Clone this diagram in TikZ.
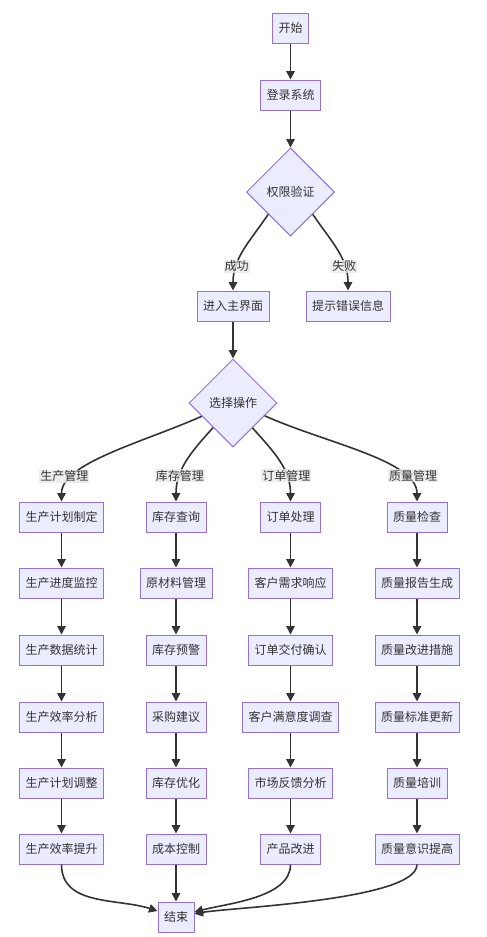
\documentclass[tikz,border=0pt]{standalone}
\usepackage{fontspec}
\setmainfont{Noto Sans CJK SC}
\usetikzlibrary{shapes.geometric,arrows.meta}
\definecolor{boxfill}{HTML}{ECECFF}
\definecolor{boxline}{HTML}{9370DB}
\definecolor{edgeline}{HTML}{333333}
\definecolor{lblfill}{HTML}{E8E8E8}
\begin{document}
\begin{tikzpicture}[x=1pt, y=1pt,
  box/.style={draw=boxline, fill=boxfill, line width=1pt, minimum height=30pt, inner xsep=6pt, text=edgeline, font=\fontsize{12}{14}\selectfont},
  choice/.style={diamond, draw=boxline, fill=boxfill, line width=1pt, minimum size=88pt, inner sep=2pt, text=edgeline, font=\fontsize{12}{14}\selectfont},
  lbl/.style={fill=lblfill, fill opacity=0.8, text opacity=1, inner sep=1pt, text=edgeline, font=\fontsize{12}{14}\selectfont},
  arr/.style={draw=edgeline, line width=1.6pt, -{Triangle[length=8.5pt,width=8.5pt]}}]
\useasboundingbox (0,0) rectangle (487,-937);
\node[box] (P_0_0) at (290.5,-28) {开始};
\node[box] (P_1_0) at (290.5,-95) {登录系统};
\draw[arr] (P_0_0) -- (P_1_0);
\node[choice] (P_2_0) at (290.5,-192) {权限验证};
\draw[arr] (P_1_0) -- (P_2_0);
\node[box] (P_3_0) at (233,-306) {进入主界面};
\draw[arr] (P_2_0.south west) to[out=-124, in=90] node[lbl, pos=.72] {成功} (P_3_0);
\node[box] (P_3_1) at (348,-306) {提示错误信息};
\draw[arr] (P_2_0.south east) to[out=-56, in=90] node[lbl, pos=.72] {失败} (P_3_1);
\node[choice] (P_4_0) at (233,-403) {选择操作};
\draw[arr] (P_3_0) -- (P_4_0);
% production column
\node[box] (P_5_0) at (61.5,-517) {生产计划制定};
\draw[arr] (P_4_0.203.6) to[out=204, in=90, in looseness=.6] node[lbl, pos=.8, xshift=-6pt, yshift=4pt] {生产管理} (P_5_0);
\node[box] (P_6_0) at (61.5,-583) {生产进度监控};
\draw[arr] (P_5_0) -- (P_6_0);
\node[box] (P_7_0) at (61.5,-650) {生产数据统计};
\draw[arr] (P_6_0) -- (P_7_0);
\node[box] (P_8_0) at (61.5,-717) {生产效率分析};
\draw[arr] (P_7_0) -- (P_8_0);
\node[box] (P_9_0) at (61.5,-783) {生产计划调整};
\draw[arr] (P_8_0) -- (P_9_0);
\node[box] (P_10_0) at (61.5,-849) {生产效率提升};
\draw[arr] (P_9_0) -- (P_10_0);
% stock column
\node[box] (P_5_1) at (176,-517) {库存查询};
\draw[arr] (P_4_0.231.3) to[out=228, in=90] node[lbl, pos=.7] {库存管理} (P_5_1);
\node[box] (P_6_1) at (176,-583) {原材料管理};
\draw[arr] (P_5_1) -- (P_6_1);
\node[box] (P_7_1) at (176,-650) {库存预警};
\draw[arr] (P_6_1) -- (P_7_1);
\node[box] (P_8_1) at (176,-717) {采购建议};
\draw[arr] (P_7_1) -- (P_8_1);
\node[box] (P_9_1) at (176,-783) {库存优化};
\draw[arr] (P_8_1) -- (P_9_1);
\node[box] (P_10_1) at (176,-849) {成本控制};
\draw[arr] (P_9_1) -- (P_10_1);
% order column
\node[box] (P_5_2) at (290.5,-517) {订单处理};
\draw[arr] (P_4_0.308.7) to[out=-48, in=90] node[lbl, pos=.7] {订单管理} (P_5_2);
\node[box] (P_6_2) at (290.5,-583) {客户需求响应};
\draw[arr] (P_5_2) -- (P_6_2);
\node[box] (P_7_2) at (290.5,-650) {订单交付确认};
\draw[arr] (P_6_2) -- (P_7_2);
\node[box] (P_8_2) at (290.5,-717) {客户满意度调查};
\draw[arr] (P_7_2) -- (P_8_2);
\node[box] (P_9_2) at (290.5,-783) {市场反馈分析};
\draw[arr] (P_8_2) -- (P_9_2);
\node[box] (P_10_2) at (290.5,-849) {产品改进};
\draw[arr] (P_9_2) -- (P_10_2);
% quality column
\node[box] (P_5_3) at (417,-517) {质量检查};
\draw[arr] (P_4_0.338.5) to[out=-24, in=90, in looseness=.6] node[lbl, pos=.8, xshift=6pt, yshift=4pt] {质量管理} (P_5_3);
\node[box] (P_6_3) at (417,-583) {质量报告生成};
\draw[arr] (P_5_3) -- (P_6_3);
\node[box] (P_7_3) at (417,-650) {质量改进措施};
\draw[arr] (P_6_3) -- (P_7_3);
\node[box] (P_8_3) at (417,-717) {质量标准更新};
\draw[arr] (P_7_3) -- (P_8_3);
\node[box] (P_9_3) at (417,-783) {质量培训};
\draw[arr] (P_8_3) -- (P_9_3);
\node[box] (P_10_3) at (417,-849) {质量意识提高};
\draw[arr] (P_9_3) -- (P_10_3);
% end
\node[box] (P_11_0) at (176,-917) {结束};
\draw[arr] (P_10_0) to[out=-90, in=162] (P_11_0);
\draw[arr] (P_10_1) -- (P_11_0);
\draw[arr] (P_10_2) to[out=-90, in=15, looseness=.8] (P_11_0);
\draw[arr] (P_10_3) to[out=-90, in=10, looseness=.4] (P_11_0);
\end{tikzpicture}
\end{document}
